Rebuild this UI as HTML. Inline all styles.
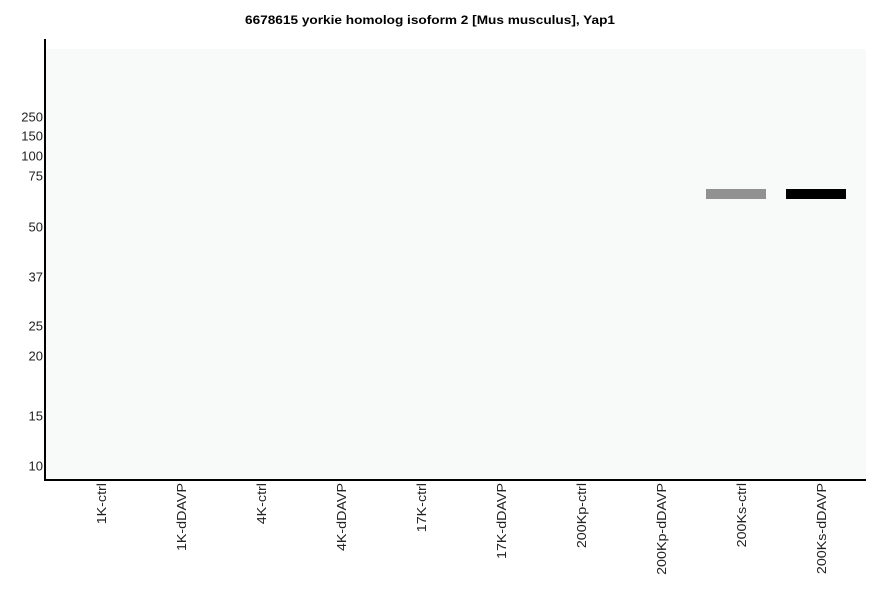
<!DOCTYPE html>
<html>
<head>
<meta charset="utf-8">
<style>
html,body{margin:0;padding:0;background:#fff;}
svg{display:block;}
text{font-family:"Liberation Sans",Arial,sans-serif;}
</style>
</head>
<body>
<svg width="886" height="595" viewBox="0 0 886 595" xmlns="http://www.w3.org/2000/svg">
<rect x="0" y="0" width="886" height="595" fill="#ffffff"/>
<text x="430" y="24" text-anchor="middle" font-size="12" font-weight="bold" fill="#000" textLength="370" lengthAdjust="spacingAndGlyphs">6678615 yorkie homolog isoform 2 [Mus musculus], Yap1</text>
<rect x="46" y="49" width="820" height="430" fill="#f8f9f9"/>
<rect x="44" y="39" width="2" height="442" fill="#000"/>
<rect x="44" y="479" width="822" height="2" fill="#000"/>
<g font-size="13" fill="#222" text-anchor="end">
<text x="43" y="121.5">250</text>
<text x="43" y="140.5">150</text>
<text x="43" y="160.5">100</text>
<text x="43" y="180.5">75</text>
<text x="43" y="231.5">50</text>
<text x="43" y="281.5">37</text>
<text x="43" y="330.5">25</text>
<text x="43" y="360.5">20</text>
<text x="43" y="420.5">15</text>
<text x="43" y="470.5">10</text>
</g>
<rect x="706" y="189" width="60" height="10" fill="#909190"/>
<rect x="786" y="189" width="60" height="10" fill="#000"/>
<g font-size="13" fill="#222" text-anchor="end">
<text transform="translate(106,483) rotate(-90) scale(1.1,1)">1K-ctrl</text>
<text transform="translate(186,483) rotate(-90) scale(1.1,1)">1K-dDAVP</text>
<text transform="translate(266,483) rotate(-90) scale(1.1,1)">4K-ctrl</text>
<text transform="translate(346,483) rotate(-90) scale(1.1,1)">4K-dDAVP</text>
<text transform="translate(426,483) rotate(-90) scale(1.1,1)">17K-ctrl</text>
<text transform="translate(506,483) rotate(-90) scale(1.1,1)">17K-dDAVP</text>
<text transform="translate(586,483) rotate(-90) scale(1.1,1)">200Kp-ctrl</text>
<text transform="translate(666,483) rotate(-90) scale(1.1,1)">200Kp-dDAVP</text>
<text transform="translate(746,483) rotate(-90) scale(1.1,1)">200Ks-ctrl</text>
<text transform="translate(826,483) rotate(-90) scale(1.1,1)">200Ks-dDAVP</text>
</g>
</svg>
</body>
</html>
